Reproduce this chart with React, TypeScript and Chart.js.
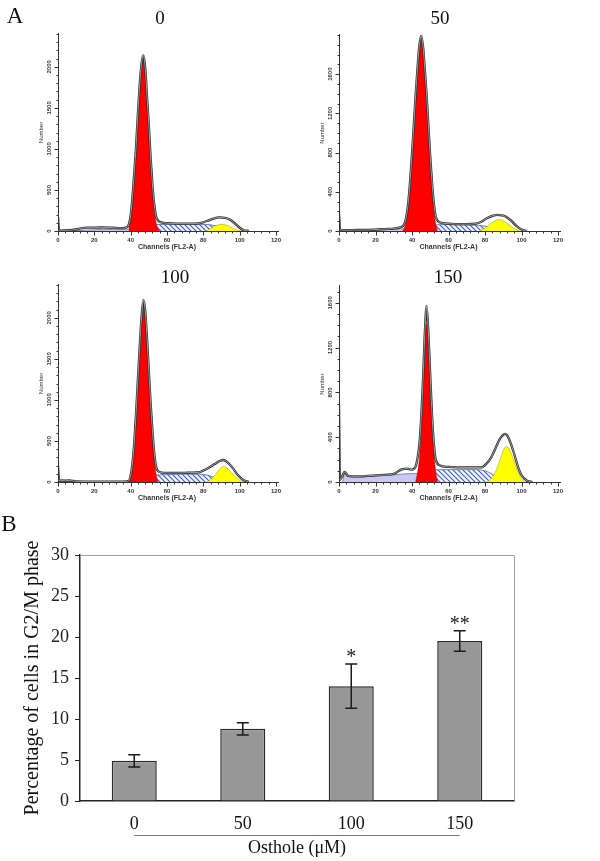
import React, { useEffect, useRef } from "react";
import { Chart, registerables } from "chart.js";
Chart.register(...registerables);

const SERIF = '"Liberation Serif", "Times New Roman", Times, serif';
const SANS = '"Liberation Sans", Arial, Helvetica, sans-serif';

// ---------------- Panel A : DNA histograms ----------------
const xTickLabels = [0, 20, 40, 60, 80, 100, 120];

// 0 µM
const env0Ch = [0, 0.6, 3, 8, 12, 16, 20, 25, 30, 35, 38, 39, 40, 41, 42, 43, 44, 45, 46, 47, 48, 49, 50, 51, 52, 53, 54, 55, 57, 60, 65, 70, 75, 80, 83, 86, 89, 92, 95, 98, 100, 102, 105];
const env0 = [170, 10, 8, 12, 30, 40, 40, 45, 40, 35, 45, 80, 190, 420, 720, 1040, 1440, 1790, 2040, 2140, 1990, 1640, 1290, 890, 560, 320, 180, 130, 105, 95, 90, 90, 90, 105, 130, 155, 165, 160, 135, 80, 40, 12, 0];
const g1Ch0 = [39, 40, 41, 42, 43, 44, 45, 46, 47, 48, 49, 50, 51, 52, 53, 54, 55, 56];
const g1_0 = [30, 150, 380, 680, 1000, 1400, 1750, 2000, 2100, 1950, 1600, 1250, 850, 500, 250, 100, 30, 0];
const sCh0 = [42, 46, 50, 55, 60, 70, 80, 84, 88, 92, 96];
const s0 = [0, 35, 65, 80, 80, 80, 80, 75, 55, 25, 0];
const g2Ch0 = [81, 84, 87, 90, 93, 96, 99, 101];
const g2_0 = [0, 30, 65, 82, 68, 38, 8, 0];
const dCh0 = [1, 10, 20, 30, 38, 42, 46];
const d0 = [0, 5, 15, 20, 20, 10, 0];

// 50 µM
const env50Ch = [0, 0.6, 5, 10, 15, 20, 25, 30, 33, 35, 36, 37, 38, 39, 40, 41, 42, 43, 44, 45, 46, 47, 48, 49, 50, 51, 52, 53, 55, 60, 65, 70, 75, 78, 81, 84, 87, 89, 91, 94, 97, 100, 103];
const env50 = [180, 10, 8, 10, 10, 15, 20, 25, 35, 50, 80, 160, 300, 520, 790, 1090, 1390, 1660, 1890, 1990, 1890, 1660, 1390, 1070, 760, 490, 280, 150, 90, 75, 70, 70, 75, 95, 130, 155, 165, 160, 150, 110, 55, 15, 0];
const g1Ch50 = [35, 36, 37, 38, 39, 40, 41, 42, 43, 44, 45, 46, 47, 48, 49, 50, 51, 52, 53, 54];
const g1_50 = [0, 40, 120, 260, 480, 750, 1050, 1350, 1620, 1850, 1950, 1850, 1620, 1350, 1020, 700, 420, 200, 70, 0];
const sCh50 = [40, 44, 48, 52, 56, 62, 70, 76, 80, 84, 88, 92];
const s50 = [0, 20, 45, 60, 65, 65, 62, 58, 50, 35, 15, 0];
const g2Ch50 = [77, 80, 83, 86, 88, 90, 93, 96, 99];
const g2_50 = [0, 30, 75, 110, 118, 105, 65, 25, 0];
const dCh50 = [1, 10, 20, 30, 36, 40];
const d50 = [0, 5, 10, 18, 22, 0];

// 100 µM
const env100Ch = [0, 0.6, 2, 4, 6, 10, 20, 30, 36, 39, 40, 41, 42, 43, 44, 45, 46, 47, 48, 49, 50, 51, 52, 53, 54, 55, 57, 60, 65, 70, 75, 78, 80, 83, 86, 89, 91, 93, 96, 99, 102, 105];
const env100 = [200, 15, 20, 15, 18, 8, 5, 5, 5, 15, 80, 230, 490, 850, 1260, 1660, 2010, 2220, 2090, 1750, 1350, 960, 620, 350, 190, 135, 115, 110, 110, 112, 115, 120, 140, 175, 215, 255, 268, 245, 175, 85, 25, 0];
const g1Ch100 = [39, 40, 41, 42, 43, 44, 45, 46, 47, 48, 49, 50, 51, 52, 53, 54, 55];
const g1_100 = [0, 60, 200, 450, 800, 1200, 1600, 1950, 2180, 2050, 1700, 1300, 900, 550, 270, 90, 0];
const sCh100 = [43, 47, 51, 55, 60, 70, 78, 82, 86, 90, 94];
const s100 = [0, 35, 70, 85, 90, 95, 95, 85, 55, 20, 0];
const g2Ch100 = [82, 85, 88, 91, 94, 97, 100, 102];
const g2_100 = [0, 50, 130, 190, 150, 80, 22, 0];
const dCh100 = [1, 3, 6, 10];
const d100 = [0, 10, 8, 0];

// 150 µM
const env150Ch = [0, 0.5, 2, 3, 5, 10, 20, 30, 34, 37, 40, 42, 43, 44, 45, 46, 47, 48, 49, 50, 51, 52, 53, 55, 60, 70, 78, 80, 83, 86, 88, 90, 91, 92, 94, 96, 98, 100, 103, 106];
const env150 = [690, 20, 60, 90, 55, 50, 60, 72, 110, 120, 110, 140, 210, 330, 560, 900, 1320, 1570, 1330, 950, 590, 340, 200, 150, 135, 130, 130, 150, 210, 310, 380, 420, 430, 420, 350, 250, 140, 60, 12, 0];
const g1Ch150 = [42, 43, 44, 45, 46, 47, 48, 49, 50, 51, 52, 53, 54];
const g1_150 = [0, 80, 200, 420, 750, 1150, 1410, 1200, 850, 500, 250, 90, 0];
const sCh150 = [43, 46, 50, 55, 65, 75, 80, 84, 88, 91];
const s150 = [0, 50, 95, 110, 110, 110, 100, 70, 25, 0];
const g2Ch150 = [81, 84, 86, 88, 90, 91, 92, 94, 96, 98, 100, 102];
const g2_150 = [0, 40, 100, 190, 280, 310, 315, 270, 180, 90, 30, 0];
const dCh150 = [2, 3, 5, 10, 20, 30, 40, 44, 48, 52];
const d150 = [0, 70, 50, 45, 55, 65, 75, 75, 50, 0];

const yMax0 = 2400, yTicks0 = [0, 500, 1000, 1500, 2000];
const yMax50 = 2000, yTicks50 = [0, 400, 800, 1200, 1600];
const yMax100 = 2400, yTicks100 = [0, 500, 1000, 1500, 2000];
const yMax150 = 1750, yTicks150 = [0, 400, 800, 1200, 1600];

// ---------------- Panel B : bar chart ----------------
const doseLabels = ["0", "50", "100", "150"];
const g2mPercent = [4.9, 8.8, 14.0, 19.5];
const g2mError = [0.75, 0.75, 2.7, 1.25];
const sigMarks = ["", "", "*", "**"];

const pts = (xs: number[], ys: number[]) => xs.map((x, i) => ({ x, y: ys[i] }));

function makeHatch(): any {
  const c = document.createElement("canvas");
  const s = 5;
  c.width = s;
  c.height = s;
  const g = c.getContext("2d")!;
  g.fillStyle = "#f3f5ff";
  g.fillRect(0, 0, s, s);
  g.strokeStyle = "#3c5ccc";
  g.lineWidth = 1.1;
  g.beginPath();
  g.moveTo(-1, -1); g.lineTo(s + 1, s + 1);
  g.moveTo(s - 1, -1); g.lineTo(s + 1, 1);
  g.moveTo(-1, s - 1); g.lineTo(1, s + 1);
  g.stroke();
  return g.createPattern(c, "repeat");
}

function histAxes(yMax: number, yTicks: number[]) {
  return {
    id: "histAxes",
    afterDraw(chart: any) {
      const { ctx, chartArea: a, scales } = chart;
      const xs = scales.x, ys = scales.y;
      ctx.save();
      ctx.strokeStyle = "#333";
      ctx.fillStyle = "#333";
      ctx.lineWidth = 1;
      const lx = Math.round(a.left) + 0.5;
      const by = Math.round(a.bottom) + 0.5;
      ctx.beginPath();
      ctx.moveTo(lx, a.top - 1);
      ctx.lineTo(lx, by);
      ctx.moveTo(lx, by);
      ctx.lineTo(xs.getPixelForValue(120) + 3, by);
      for (let v = 0; v <= yMax; v += 100) {
        const p = Math.round(ys.getPixelForValue(v)) + 0.5;
        ctx.moveTo(lx - 2, p);
        ctx.lineTo(lx, p);
      }
      for (const v of yTicks) {
        const p = Math.round(ys.getPixelForValue(v)) + 0.5;
        ctx.moveTo(lx - 4, p);
        ctx.lineTo(lx, p);
      }
      for (let c = 0; c <= 120; c += 4) {
        const p = Math.round(xs.getPixelForValue(c)) + 0.5;
        ctx.moveTo(p, by);
        ctx.lineTo(p, by + (c % 20 === 0 ? 4 : 2));
      }
      ctx.stroke();
      ctx.font = `bold 6px ${SANS}`;
      ctx.textAlign = "center";
      ctx.textBaseline = "middle";
      for (const c of xTickLabels) ctx.fillText(String(c), xs.getPixelForValue(c), by + 9);
      for (const v of yTicks) {
        ctx.save();
        ctx.translate(lx - 9, ys.getPixelForValue(v));
        ctx.rotate(-Math.PI / 2);
        ctx.fillText(String(v), 0, 0);
        ctx.restore();
      }
      ctx.font = `bold 7px ${SANS}`;
      ctx.fillText("Channels (FL2-A)", xs.getPixelForValue(60), by + 16);
      ctx.save();
      ctx.translate(lx - 17, (a.top + a.bottom) / 2);
      ctx.rotate(-Math.PI / 2);
      ctx.font = `6px ${SANS}`;
      ctx.fillText("Number", 0, 0);
      ctx.restore();
      ctx.restore();
    },
  };
}

type HistProps = {
  left: number; top: number; pad: any; yMax: number; yTicks: number[];
  envCh: number[]; env: number[]; g1Ch: number[]; g1: number[];
  sCh: number[]; s: number[]; g2Ch: number[]; g2: number[]; dCh: number[]; d: number[];
};

function Hist(p: HistProps) {
  const ref = useRef<HTMLCanvasElement>(null);
  useEffect(() => {
    const hatch = makeHatch();
    const common = { pointRadius: 0, cubicInterpolationMode: "monotone" as const };
    const chart = new Chart(ref.current!, {
      type: "line",
      data: {
        datasets: [
          { ...common, data: pts(p.envCh, p.env), borderColor: "rgba(255,255,255,0.8)", borderWidth: 0.7, fill: false },
          { ...common, data: pts(p.envCh, p.env), borderColor: "#262626", borderWidth: 2.3, fill: false },
          { ...common, data: pts(p.g1Ch, p.g1), borderColor: "#b00000", borderWidth: 0.5, backgroundColor: "#ff0000", fill: "origin" },
          { ...common, data: pts(p.g2Ch, p.g2), borderColor: "#9a9a00", borderWidth: 0.5, backgroundColor: "#ffff00", fill: "origin" },
          { ...common, data: pts(p.sCh, p.s), borderColor: "#5060b0", borderWidth: 0.8, backgroundColor: hatch, fill: "origin" },
          { ...common, data: pts(p.dCh, p.d), borderColor: "#7070b0", borderWidth: 0.8, backgroundColor: "#c8c8f2", fill: "origin" },
        ],
      },
      options: {
        responsive: false,
        animation: false,
        layout: { padding: p.pad },
        plugins: { legend: { display: false }, tooltip: { enabled: false } },
        scales: {
          x: { type: "linear", min: 0, max: 120, display: false },
          y: { type: "linear", min: 0, max: p.yMax, display: false },
        },
      },
      plugins: [histAxes(p.yMax, p.yTicks)],
    });
    return () => chart.destroy();
  }, []);
  return (
    <canvas ref={ref} width={300} height={252}
      style={{ position: "absolute", left: p.left, top: p.top, width: 300, height: 252 }} />
  );
}

const barPlugin = {
  id: "barExtras",
  beforeDatasetsDraw(chart: any) {
    const { ctx, chartArea: a } = chart;
    ctx.save();
    ctx.strokeStyle = "#a0a0a0";
    ctx.lineWidth = 1;
    ctx.beginPath();
    ctx.moveTo(a.left, Math.round(a.top) + 0.5);
    ctx.lineTo(Math.round(a.right) + 0.5, Math.round(a.top) + 0.5);
    ctx.lineTo(Math.round(a.right) + 0.5, a.bottom);
    ctx.stroke();
    ctx.restore();
  },
  afterDatasetsDraw(chart: any) {
    const { ctx, chartArea: a } = chart;
    const meta = chart.getDatasetMeta(0);
    const ys = chart.scales.y, xs = chart.scales.x;
    ctx.save();
    ctx.strokeStyle = "#1a1a1a";
    ctx.fillStyle = "#1a1a1a";
    ctx.lineWidth = 1.5;
    meta.data.forEach((el: any, i: number) => {
      const x = el.x;
      const t = ys.getPixelForValue(g2mPercent[i] + g2mError[i]);
      const b = ys.getPixelForValue(g2mPercent[i] - g2mError[i]);
      ctx.beginPath();
      ctx.moveTo(x, t); ctx.lineTo(x, b);
      ctx.moveTo(x - 6, t); ctx.lineTo(x + 6, t);
      ctx.moveTo(x - 6, b); ctx.lineTo(x + 6, b);
      ctx.stroke();
      if (sigMarks[i]) {
        ctx.font = `20px ${SERIF}`;
        ctx.textAlign = "center";
        ctx.textBaseline = "alphabetic";
        ctx.fillText(sigMarks[i], x, t - 1);
      }
    });
    const uy = Math.round(a.bottom + 34) + 0.5;
    ctx.strokeStyle = "#777";
    ctx.lineWidth = 1;
    ctx.beginPath();
    ctx.moveTo(xs.getPixelForValue(0), uy);
    ctx.lineTo(xs.getPixelForValue(3), uy);
    ctx.stroke();
    ctx.restore();
  },
};

function Bars() {
  const ref = useRef<HTMLCanvasElement>(null);
  useEffect(() => {
    const chart = new Chart(ref.current!, {
      type: "bar",
      data: {
        labels: doseLabels,
        datasets: [{
          data: g2mPercent,
          backgroundColor: "#979797",
          borderColor: "#2a2a2a",
          borderWidth: 1.5,
          categoryPercentage: 1,
          barPercentage: 0.415,
        }],
      },
      options: {
        responsive: false,
        animation: false,
        layout: { padding: { left: 18, right: 86, top: 50, bottom: 0 } },
        plugins: { legend: { display: false }, tooltip: { enabled: false } },
        scales: {
          x: {
            grid: { display: false },
            border: { display: true, color: "#222", width: 1.5 },
            ticks: { color: "#111", font: { family: SERIF, size: 18 }, padding: 4 },
            title: { display: true, text: "Osthole (μM)", color: "#111", font: { family: SERIF, size: 18 }, padding: { top: 0, bottom: 2 } },
            afterFit: (s: any) => { s.height = 60; },
          },
          y: {
            min: 0, max: 30,
            ticks: { stepSize: 5, color: "#222", font: { family: SERIF, size: 18 }, padding: 6 },
            grid: { drawOnChartArea: false, drawTicks: true, tickLength: 5, color: "#222" },
            border: { display: true, color: "#222", width: 1.5 },
            title: { display: true, text: "Percentage of cells in G2/M phase", color: "#111", font: { family: SERIF, size: 20 }, padding: { top: 3, bottom: 0 } },
            afterFit: (s: any) => { s.width = 62; },
          },
        },
      },
      plugins: [barPlugin],
    });
    return () => chart.destroy();
  }, []);
  return (
    <canvas ref={ref} width={600} height={356}
      style={{ position: "absolute", left: 0, top: 505, width: 600, height: 356 }} />
  );
}

const label = (text: string, x: number, y: number, size: number) => (
  <div style={{
    position: "absolute", left: x, top: y, transform: "translate(-50%, -56%)",
    fontFamily: SERIF, fontSize: size, lineHeight: 1, color: "#111", whiteSpace: "nowrap",
  }}>{text}</div>
);

export default function App() {
  return (
    <div style={{ position: "absolute", left: 0, top: 0, width: 600, height: 861, background: "#fff", overflow: "hidden" }}>
      <Hist left={0} top={0} pad={{ left: 58, right: 24, top: 34, bottom: 21 }} yMax={yMax0} yTicks={yTicks0}
        envCh={env0Ch} env={env0} g1Ch={g1Ch0} g1={g1_0} sCh={sCh0} s={s0} g2Ch={g2Ch0} g2={g2_0} dCh={dCh0} d={d0} />
      <Hist left={300} top={0} pad={{ left: 39, right: 42, top: 35, bottom: 21 }} yMax={yMax50} yTicks={yTicks50}
        envCh={env50Ch} env={env50} g1Ch={g1Ch50} g1={g1_50} sCh={sCh50} s={s50} g2Ch={g2Ch50} g2={g2_50} dCh={dCh50} d={d50} />
      <Hist left={0} top={252} pad={{ left: 58, right: 24, top: 33, bottom: 22 }} yMax={yMax100} yTicks={yTicks100}
        envCh={env100Ch} env={env100} g1Ch={g1Ch100} g1={g1_100} sCh={sCh100} s={s100} g2Ch={g2Ch100} g2={g2_100} dCh={dCh100} d={d100} />
      <Hist left={300} top={252} pad={{ left: 39, right: 42, top: 34, bottom: 22 }} yMax={yMax150} yTicks={yTicks150}
        envCh={env150Ch} env={env150} g1Ch={g1Ch150} g1={g1_150} sCh={sCh150} s={s150} g2Ch={g2Ch150} g2={g2_150} dCh={dCh150} d={d150} />
      <Bars />
      {label("A", 15, 17, 23)}
      {label("B", 9, 525, 23)}
      {label("0", 160, 19, 19)}
      {label("50", 440, 19, 19)}
      {label("100", 175, 278, 19)}
      {label("150", 448, 278, 19)}
    </div>
  );
}
